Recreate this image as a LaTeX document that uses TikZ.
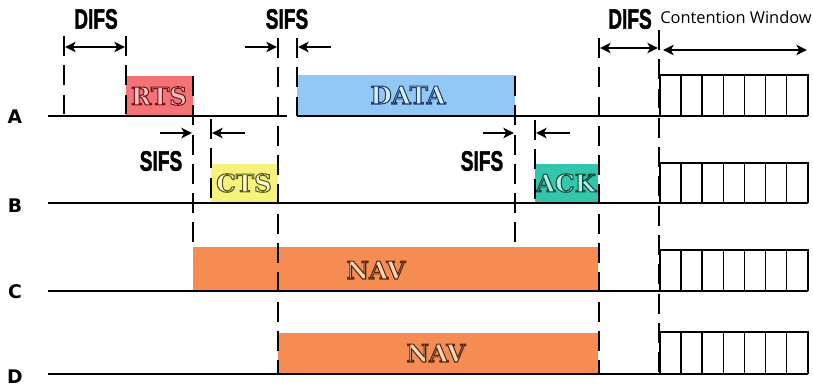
\documentclass[tikz,border=0pt]{standalone}
\usepackage{fontspec}
\usetikzlibrary{arrows.meta}
\newfontfamily\tagfont{DejaVu Sans}
\newfontfamily\gapfont{Liberation Sans}[BoldFeatures={FakeBold=1.8}]
\newfontfamily\cwfont{Open Sans}
\newfontfamily\framefont{DejaVu Serif}

\definecolor{rtsfill}{HTML}{F47376}
\definecolor{rtslite}{HTML}{FAC4C4}
\definecolor{datafill}{HTML}{92C8F5}
\definecolor{datalite}{HTML}{D8ECFB}
\definecolor{ctsfill}{HTML}{F6F27C}
\definecolor{ctslite}{HTML}{FCFBD6}
\definecolor{ackfill}{HTML}{34C6AD}
\definecolor{acklite}{HTML}{B4EEE2}
\definecolor{navfill}{HTML}{F58C52}
\definecolor{navlite}{HTML}{FAD4B4}

% hollow lettering: fill with #2, stroke with rgb #1
\newcommand{\framelabel}[3]{\textcolor{#2}{\special{pdf:literal direct #1 RG 0.9 w 2 Tr}#3\special{pdf:literal direct 0 Tr}}}
\newcommand{\gaptext}[1]{\scalebox{0.68}[1]{#1}}

\tikzset{>={Stealth[length=9pt,width=9pt,inset=2.5pt]},
  axis/.style={line width=1.5pt},
  tick/.style={line width=1.2pt, dash pattern=on 17pt off 8pt},
  span/.style={<->, line width=1.3pt, shorten >=1pt, shorten <=1pt},
  gap/.style={->, line width=1.3pt, shorten >=1pt},
  slot/.style={draw, line width=1.3pt},
  station/.style={font=\tagfont\bfseries\fontsize{16}{16}\selectfont},
  gaplabel/.style={font=\gapfont\bfseries\fontsize{24}{24}\selectfont},
  framelabel/.style={font=\framefont\bfseries\fontsize{21}{21}\selectfont},
  cwlabel/.style={font=\cwfont\fontsize{14}{14}\selectfont}
}

\begin{document}
\begin{tikzpicture}[x=0.03cm, y=-0.03cm]
\useasboundingbox (0,0) rectangle (813,387);

% frames on the medium
\fill[rtsfill]  (126,76)  rectangle (193,116);
\fill[datafill] (297,75)  rectangle (515,116);
\fill[ctsfill]  (211,164) rectangle (278,203);
\fill[ackfill]  (535,164) rectangle (598,203);
\fill[navfill]  (193,247) rectangle (598,291);
\fill[navfill]  (278,333) rectangle (598,374);

\node[framelabel] (rts)  at (159,96)  {\framelabel{0.48 0.08 0.08}{rtslite}{RTS}};
\node[framelabel] (data) at (408,95)  {\framelabel{0.12 0.25 0.43}{datalite}{DATA}};
\node[framelabel] (cts)  at (244,183) {\framelabel{0.35 0.35 0.06}{ctslite}{CTS}};
\node[framelabel] (ack)  at (566,183) {\framelabel{0.05 0.29 0.24}{acklite}{ACK}};
\node[framelabel] (navc) at (376,270) {\framelabel{0.35 0.16 0.06}{navlite}{NAV}};
\node[framelabel] (navd) at (436,353) {\framelabel{0.35 0.16 0.06}{navlite}{NAV}};

% stations
\node[station] (labA) at (15,117) {A};
\node[station] (labB) at (15,206) {B};
\node[station] (labC) at (15,292) {C};
\node[station] (labD) at (15,377) {D};

\draw[axis] (48,116) -- (287,116) (297,116) -- (808,116);
\foreach \y in {203,291,374}
  \draw[axis] (48,\y) -- (808,\y);

% contention window slots
\foreach \top/\y in {75/116, 163/203, 250/291, 332/374} {
  \draw[slot] (660,\y) -- (660,\top) -- (808,\top) -- (808,\y);
  \foreach \k in {1,...,6}
    \draw[slot] (660+21.1*\k,\top) -- (660+21.1*\k,\y);
}

% time marks
\foreach \x/\a/\b in {64/36/116, 126/36/116, 193/76/247, 211/119/203,
                      278/38/374, 297/38/116, 515/76/245, 535/120/203,
                      599/38/374, 659/30/374}
  \draw[tick] (\x,\a) -- (\x,\b);

% interframe spaces
\coordinate (difsL) at (64,47);
\coordinate (difsR) at (126,47);
\draw[span] (difsL) -- (difsR);
\node[gaplabel] (difs) at (96,19) {\gaptext{DIFS}};

\coordinate (sifsL) at (278,47);
\coordinate (sifsR) at (297,47);
\coordinate (sifsLin) at (245,47);
\coordinate (sifsRin) at (331,47);
\draw[gap] (sifsLin) -- (sifsL);
\draw[gap] (sifsRin) -- (sifsR);
\node[gaplabel] (sifs) at (287,19) {\gaptext{SIFS}};

\coordinate (ctsL) at (193,133);
\coordinate (ctsR) at (211,133);
\coordinate (ctsLin) at (160,133);
\coordinate (ctsRin) at (245,133);
\draw[gap] (ctsLin) -- (ctsL);
\draw[gap] (ctsRin) -- (ctsR);
\node[gaplabel] (sifsB) at (161,161) {\gaptext{SIFS}};

\coordinate (ackL) at (515,133);
\coordinate (ackR) at (535,133);
\coordinate (ackLin) at (483,133);
\coordinate (ackRin) at (570,133);
\draw[gap] (ackLin) -- (ackL);
\draw[gap] (ackRin) -- (ackR);
\node[gaplabel] (sifsC) at (482,161) {\gaptext{SIFS}};

\coordinate (difs2L) at (599,48);
\coordinate (difs2R) at (659,48);
\draw[span] (difs2L) -- (difs2R);
\node[gaplabel] (difs2) at (630,19) {\gaptext{DIFS}};

\coordinate (cwL) at (662,50);
\coordinate (cwR) at (808,50);
\draw[span] (cwL) -- (cwR);
\node[cwlabel] (cw) at (736,17) {Contention Window};
\end{tikzpicture}
\end{document}
